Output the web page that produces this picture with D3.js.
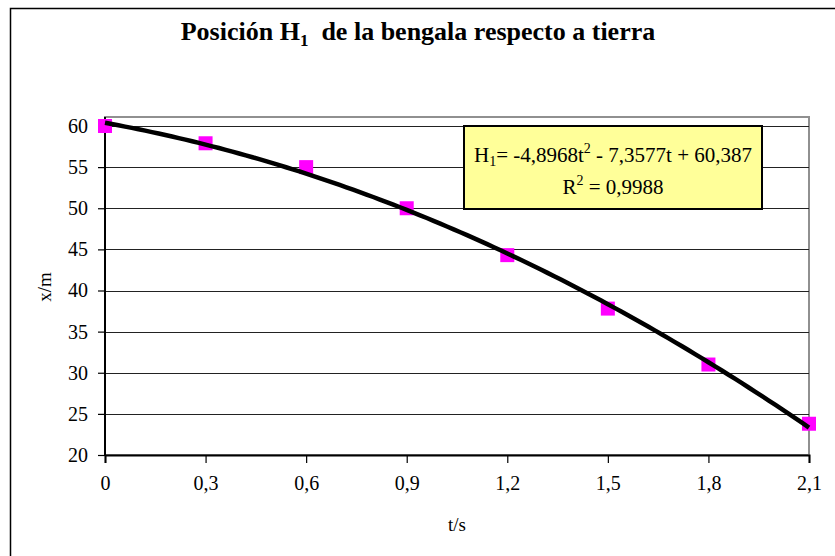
<!DOCTYPE html>
<html lang="es">
<head>
  <meta charset="UTF-8">
  <title>Posición H1</title>
  <script src="https://cdn.jsdelivr.net/npm/d3@7"></script>
  <style>
    body { margin: 0; background: #fff; }
    text { font-family: "Liberation Serif", "Times New Roman", serif; fill: #000; }
  </style>
</head>
<body>
  <div id="chart"></div>

  <script>
    // data
    const times = [0, 0.3, 0.6, 0.9, 1.2, 1.5, 1.8, 2.1];
    const heights = [60, 57.9, 55, 50, 44.3, 37.8, 31, 23.8];
    const xTicks = [0, 0.3, 0.6, 0.9, 1.2, 1.5, 1.8, 2.1];
    const yTicks = [20, 25, 30, 35, 40, 45, 50, 55, 60];
    // polynomial trendline coefficients shown in the chart: c2, c1, c0
    const trendCoef = [-4.8968, -7.3577, 60.387];

    const width = 835,
      height = 556;

    const plot = {left: 105, right: 809, top: 117, bottom: 455};

    const svg = d3.select('#chart')
      .append('svg')
        .attr('width', width)
        .attr('height', height);

    // outer chart frame
    svg.append('rect')
      .attr('x', 10.5).attr('y', 8.5)
      .attr('width', 840).attr('height', 560)
      .attr('fill', 'none')
      .attr('stroke', 'black')
      .attr('stroke-width', 1.5);

    const x = d3.scaleLinear().domain([0, 2.1]).range([plot.left, plot.right]);
    const y = d3.scaleLinear().domain([20, 60]).range([plot.bottom, 126]);

    // plot area border (grey)
    svg.append('rect')
      .attr('x', plot.left).attr('y', plot.top)
      .attr('width', plot.right - plot.left).attr('height', plot.bottom - plot.top)
      .attr('fill', 'none')
      .attr('stroke', '#909090')
      .attr('stroke-width', 2);

    // gridlines
    svg.append('g')
      .selectAll('line')
      .data(yTicks.slice(1))
      .join('line')
        .attr('x1', plot.left).attr('x2', plot.right)
        .attr('y1', d => Math.round(y(d)) + 0.5).attr('y2', d => Math.round(y(d)) + 0.5)
        .attr('stroke', '#222')
        .attr('stroke-width', 1);

    const fmt = d => String(+d.toFixed(1)).replace('.', ',');

    const xAxis = svg.append('g')
      .attr('transform', `translate(0,${plot.bottom})`)
      .call(d3.axisBottom(x).tickValues(xTicks).tickFormat(fmt).tickSize(8).tickPadding(13));
    const yAxis = svg.append('g')
      .attr('transform', `translate(${plot.left},0)`)
      .call(d3.axisLeft(y).tickValues(yTicks).tickSize(7).tickPadding(10));

    [xAxis, yAxis].forEach(a => {
      a.select('.domain').attr('stroke', 'black').attr('stroke-width', 2);
      a.selectAll('.tick line').attr('stroke', 'black').attr('stroke-width', 1.2);
      a.selectAll('text')
        .style('font-family', '"Liberation Serif", "Times New Roman", serif')
        .style('font-size', '20px')
        .attr('fill', 'black');
    });
    yAxis.select('.domain').attr('d', `M0,${plot.bottom}V${plot.top}`);

    // markers
    svg.append('g')
      .selectAll('rect')
      .data(times.map((t, i) => [t, heights[i]]))
      .join('rect')
        .attr('x', d => x(d[0]) - 7)
        .attr('y', d => y(d[1]) - 7)
        .attr('width', 14).attr('height', 14)
        .attr('fill', '#ff00ff');

    // trendline
    const poly = t => trendCoef[0] * t * t + trendCoef[1] * t + trendCoef[2];
    const ts = d3.range(0, 2.1 + 1e-9, 0.02);
    svg.append('path')
      .datum(ts)
      .attr('d', d3.line().x(t => x(t)).y(t => y(poly(t))))
      .attr('fill', 'none')
      .attr('stroke', 'black')
      .attr('stroke-width', 4.5);

    // equation box
    const box = svg.append('g');
    box.append('rect')
      .attr('x', 464).attr('y', 126)
      .attr('width', 298).attr('height', 83)
      .attr('fill', '#ffff99')
      .attr('stroke', 'black')
      .attr('stroke-width', 2);
    const eq = box.append('text')
      .attr('x', 613).attr('y', 162)
      .attr('text-anchor', 'middle')
      .style('font-size', '21px');
    eq.append('tspan').text('H');
    eq.append('tspan').text('1').attr('dy', 4).style('font-size', '14px');
    eq.append('tspan').text('= -4,8968t').attr('dy', -4);
    eq.append('tspan').text('2').attr('dy', -9).style('font-size', '14px');
    eq.append('tspan').text(' - 7,3577t + 60,387').attr('dy', 9);
    const r2 = box.append('text')
      .attr('x', 613).attr('y', 194)
      .attr('text-anchor', 'middle')
      .style('font-size', '21px');
    r2.append('tspan').text('R');
    r2.append('tspan').text('2').attr('dy', -9).style('font-size', '14px');
    r2.append('tspan').text(' = 0,9988').attr('dy', 9);

    // title
    const title = svg.append('text')
      .attr('x', 418).attr('y', 40)
      .attr('text-anchor', 'middle')
      .style('font-size', '26px')
      .style('font-weight', 'bold');
    title.append('tspan').text('Posición H');
    title.append('tspan').text('1').attr('dy', 6).style('font-size', '17px');
    title.append('tspan').text('\u00a0\u00a0de la bengala respecto a tierra').attr('dy', -6);

    // axis titles
    svg.append('text')
      .attr('x', 457).attr('y', 531)
      .attr('text-anchor', 'middle')
      .style('font-size', '19px')
      .text('t/s');
    svg.append('text')
      .attr('transform', 'translate(51,287) rotate(-90)')
      .attr('text-anchor', 'middle')
      .style('font-size', '19px')
      .text('x/m');
  </script>
</body>
</html>
